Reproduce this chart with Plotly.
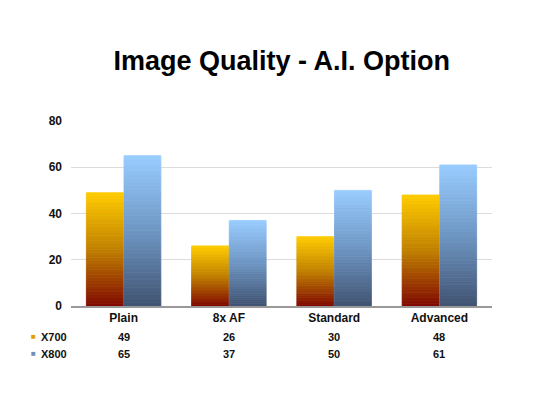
import plotly.graph_objects as go

categories = ["Plain", "8x AF", "Standard", "Advanced"]
x700 = [49, 26, 30, 48]
x800 = [65, 37, 50, 61]
y_ticks = [0, 20, 40, 60, 80]

# gradient bottom -> top, faked with stacked slices
N = 40


def mix(c1, c2, t):
    return "rgb(%d,%d,%d)" % tuple(round(a + (b - a) * t) for a, b in zip(c1, c2))


def grad(c_bot, c_mid, c_top, t):
    if t < 0.5:
        return mix(c_bot, c_mid, t * 2)
    return mix(c_mid, c_top, (t - 0.5) * 2)


series = [
    ("X700", x700, (128, 8, 0), (192, 128, 0), (255, 204, 0)),
    ("X800", x800, (64, 82, 112), (110, 150, 195), (153, 204, 255)),
]

fig = go.Figure()
for name, vals, cb, cm, ct in series:
    for k in range(N):
        col = grad(cb, cm, ct, (k + 0.5) / N)
        fig.add_trace(go.Bar(
            x=categories,
            y=[v / N for v in vals],
            base=[v * k / N for v in vals],
            offsetgroup=name,
            name=name,
            showlegend=False,
            hoverinfo="skip",
            marker=dict(color=col, line=dict(width=0.8, color=col)),
        ))

annotations = []
rows = [("X700", x700, "#e0a000", -0.167), ("X800", x800, "#6f8fb5", -0.259)]
for name, vals, col, yy in rows:
    annotations.append(dict(x=-0.090, y=yy, xref="paper", yref="paper", text="■",
                            xanchor="center", yanchor="middle",
                            showarrow=False, font=dict(size=8, color=col)))
    annotations.append(dict(x=-0.075, y=yy, xref="paper", yref="paper", text="<b>%s</b>" % name,
                            xanchor="left", yanchor="middle",
                            showarrow=False, font=dict(size=11, color="#111")))
    for c, v in zip(categories, vals):
        annotations.append(dict(x=c, y=yy, xref="x", yref="paper", text="<b>%d</b>" % v,
                                xanchor="center", yanchor="middle",
                                showarrow=False, font=dict(size=11, color="#111")))

# page body has an 8px margin, so the figure is a bit smaller than the window
fig.update_layout(
    width=542, height=405,
    barmode="group", bargap=0.285, bargroupgap=0.02,
    plot_bgcolor="white", paper_bgcolor="white",
    font=dict(family="Arial, Liberation Sans", color="#111"),
    margin=dict(l=63, r=58, t=113, b=107),
    title=dict(text="<b>Image Quality - A.I. Option</b>", x=0.505, xanchor="center",
               y=0.87, yanchor="middle", font=dict(size=27, color="black")),
    xaxis=dict(tickfont=dict(size=12, weight="bold"), showline=True, linecolor="#999",
               linewidth=1.5, ticks=""),
    yaxis=dict(range=[0, 80], tickvals=y_ticks, tickfont=dict(size=12, weight="bold"),
               gridcolor="#dcdcdc", zeroline=False, ticklabelstandoff=8),
    annotations=annotations,
)

fig.write_html("out.html")
